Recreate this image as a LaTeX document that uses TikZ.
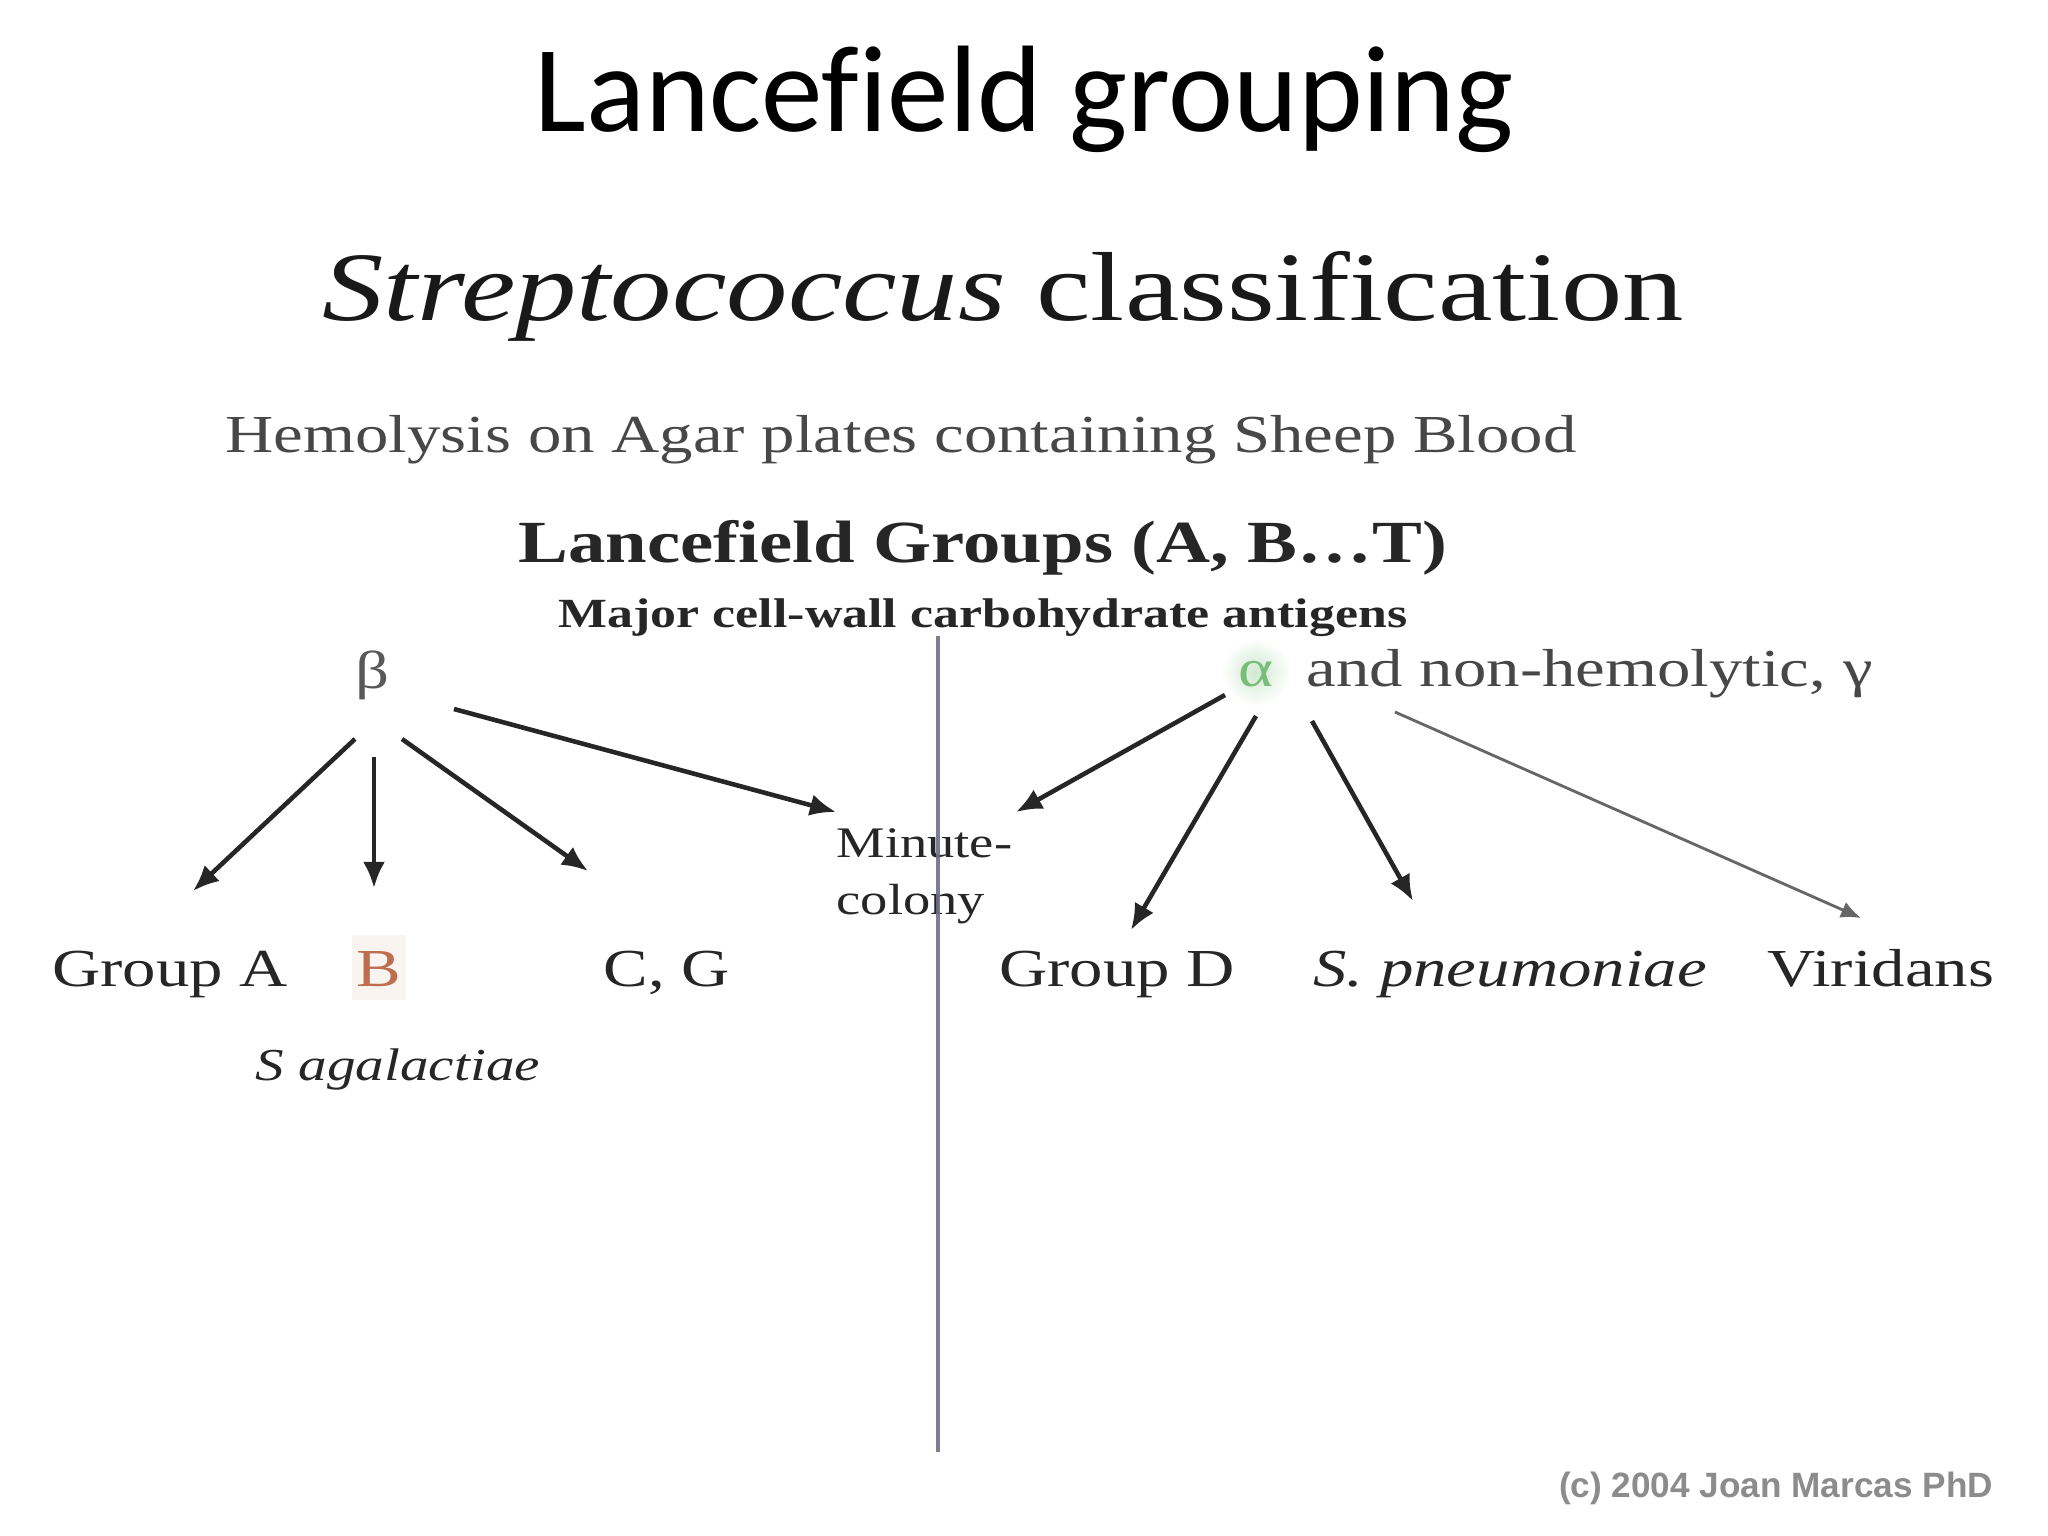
\documentclass[tikz,border=0pt]{standalone}
\usepackage{fontspec}
\setmainfont{Liberation Serif}[FakeStretch=1.25, RawFeature={-liga}]
\newfontfamily\titlefont{Carlito}[RawFeature={-liga}]
\newfontfamily\notefont{Liberation Sans}
\usetikzlibrary{arrows.meta}
\definecolor{divgray}{RGB}{112,112,134}
\definecolor{alphagreen}{RGB}{120,190,120}
\definecolor{bbrown}{RGB}{190,110,80}
\tikzset{
  txt/.style={anchor=base, inner sep=0pt, text=black!85},
  lbl/.style={txt, font=\fontsize{15.2}{18}\selectfont},
  arr/.style={-{Latex[length=0.26cm,width=0.22cm]}, line width=1.3pt, black!85}
}
\begin{document}
\begin{tikzpicture}[x=0.01cm, y=-0.01cm]

  \useasboundingbox[fill=white] (0,0) rectangle (2048,1536);

  \node[txt, text=black, font=\titlefont\fontsize{35}{42}\selectfont] (title) at (1024,131) {Lancefield grouping};
  \node[txt, text=black!90, font=\fontsize{27.9}{33}\selectfont] (strep) at (1003,320) {\textit{Streptococcus} classification};
  \node[lbl, text=black!72] (hemo) at (901,452) {Hemolysis on Agar plates containing Sheep Blood};
  \node[txt, font=\bfseries\fontsize{17}{20}\selectfont] (groups) at (983,562) {Lancefield Groups (A, B…T)};
  \node[txt, font=\bfseries\fontsize{11.8}{14}\selectfont] (major) at (983,627) {Major cell-wall carbohydrate antigens};

  \node[lbl, text=black!65] (beta) at (372,688) {β};
  \shade[inner color=alphagreen!35, outer color=white] (1256,672) circle [radius=34];
  \node[lbl, text=alphagreen] (alpha) at (1256,686) {α};
  \node[lbl, anchor=base west, text=black!72] (gamma) at (1306,686) {and non-hemolytic, γ};

  \node[lbl] (grpA) at (170,986) {Group A};
  \fill[bbrown!8] (352,935) rectangle (406,1000);
  \node[lbl, text=bbrown] (grpB) at (379,986) {B};
  \node[lbl] (grpCG) at (667,986) {C, G};
  \node[txt, font=\itshape\fontsize{13}{15}\selectfont] (agal) at (398,1080) {S agalactiae};
  \node[txt, anchor=base west, align=left, font=\fontsize{12.4}{16.2}\selectfont] (minute) at (836,914) {Minute-\\colony};
  \node[lbl] (grpD) at (1117,986) {Group D};
  \node[lbl, font=\itshape\fontsize{15.2}{18}\selectfont] (pneu) at (1510,986) {S. pneumoniae};
  \node[lbl] (virid) at (1881,986) {Viridans};

  \node[txt, text=black!45, font=\notefont\bfseries\fontsize{10}{12}\selectfont] (copy) at (1776,1497) {(c) 2004 Joan Marcas PhD};

  \coordinate (divtop) at (938,636);
  \coordinate (divbot) at (938,1452);
  \draw[divgray, line width=1.4pt, opacity=0.9] (divtop) -- (divbot);

  \coordinate (betaL) at (355,739);   \coordinate (tipA) at (193,891);
  \coordinate (betaM) at (374,757);   \coordinate (tipB) at (374,888);
  \coordinate (betaR) at (402,739);   \coordinate (tipCG) at (588,871);
  \coordinate (betaX) at (454,709);   \coordinate (tipMinL) at (836,812);
  \coordinate (alphaL) at (1225,695); \coordinate (tipMinR) at (1016,812);
  \coordinate (alphaD) at (1256,716); \coordinate (tipD) at (1131,930);
  \coordinate (alphaP) at (1312,721); \coordinate (tipP) at (1413,901);
  \coordinate (alphaV) at (1395,712); \coordinate (tipV) at (1861,918);

  \foreach \s/\e in {betaL/tipA, betaM/tipB, betaR/tipCG, betaX/tipMinL, alphaL/tipMinR, alphaD/tipD, alphaP/tipP}{
    \draw[arr] (\s) -- (\e);
  }
  \draw[arr, line width=0.8pt, black!60, -{Latex[length=0.2cm,width=0.17cm]}] (alphaV) -- (tipV);

\end{tikzpicture}
\end{document}
